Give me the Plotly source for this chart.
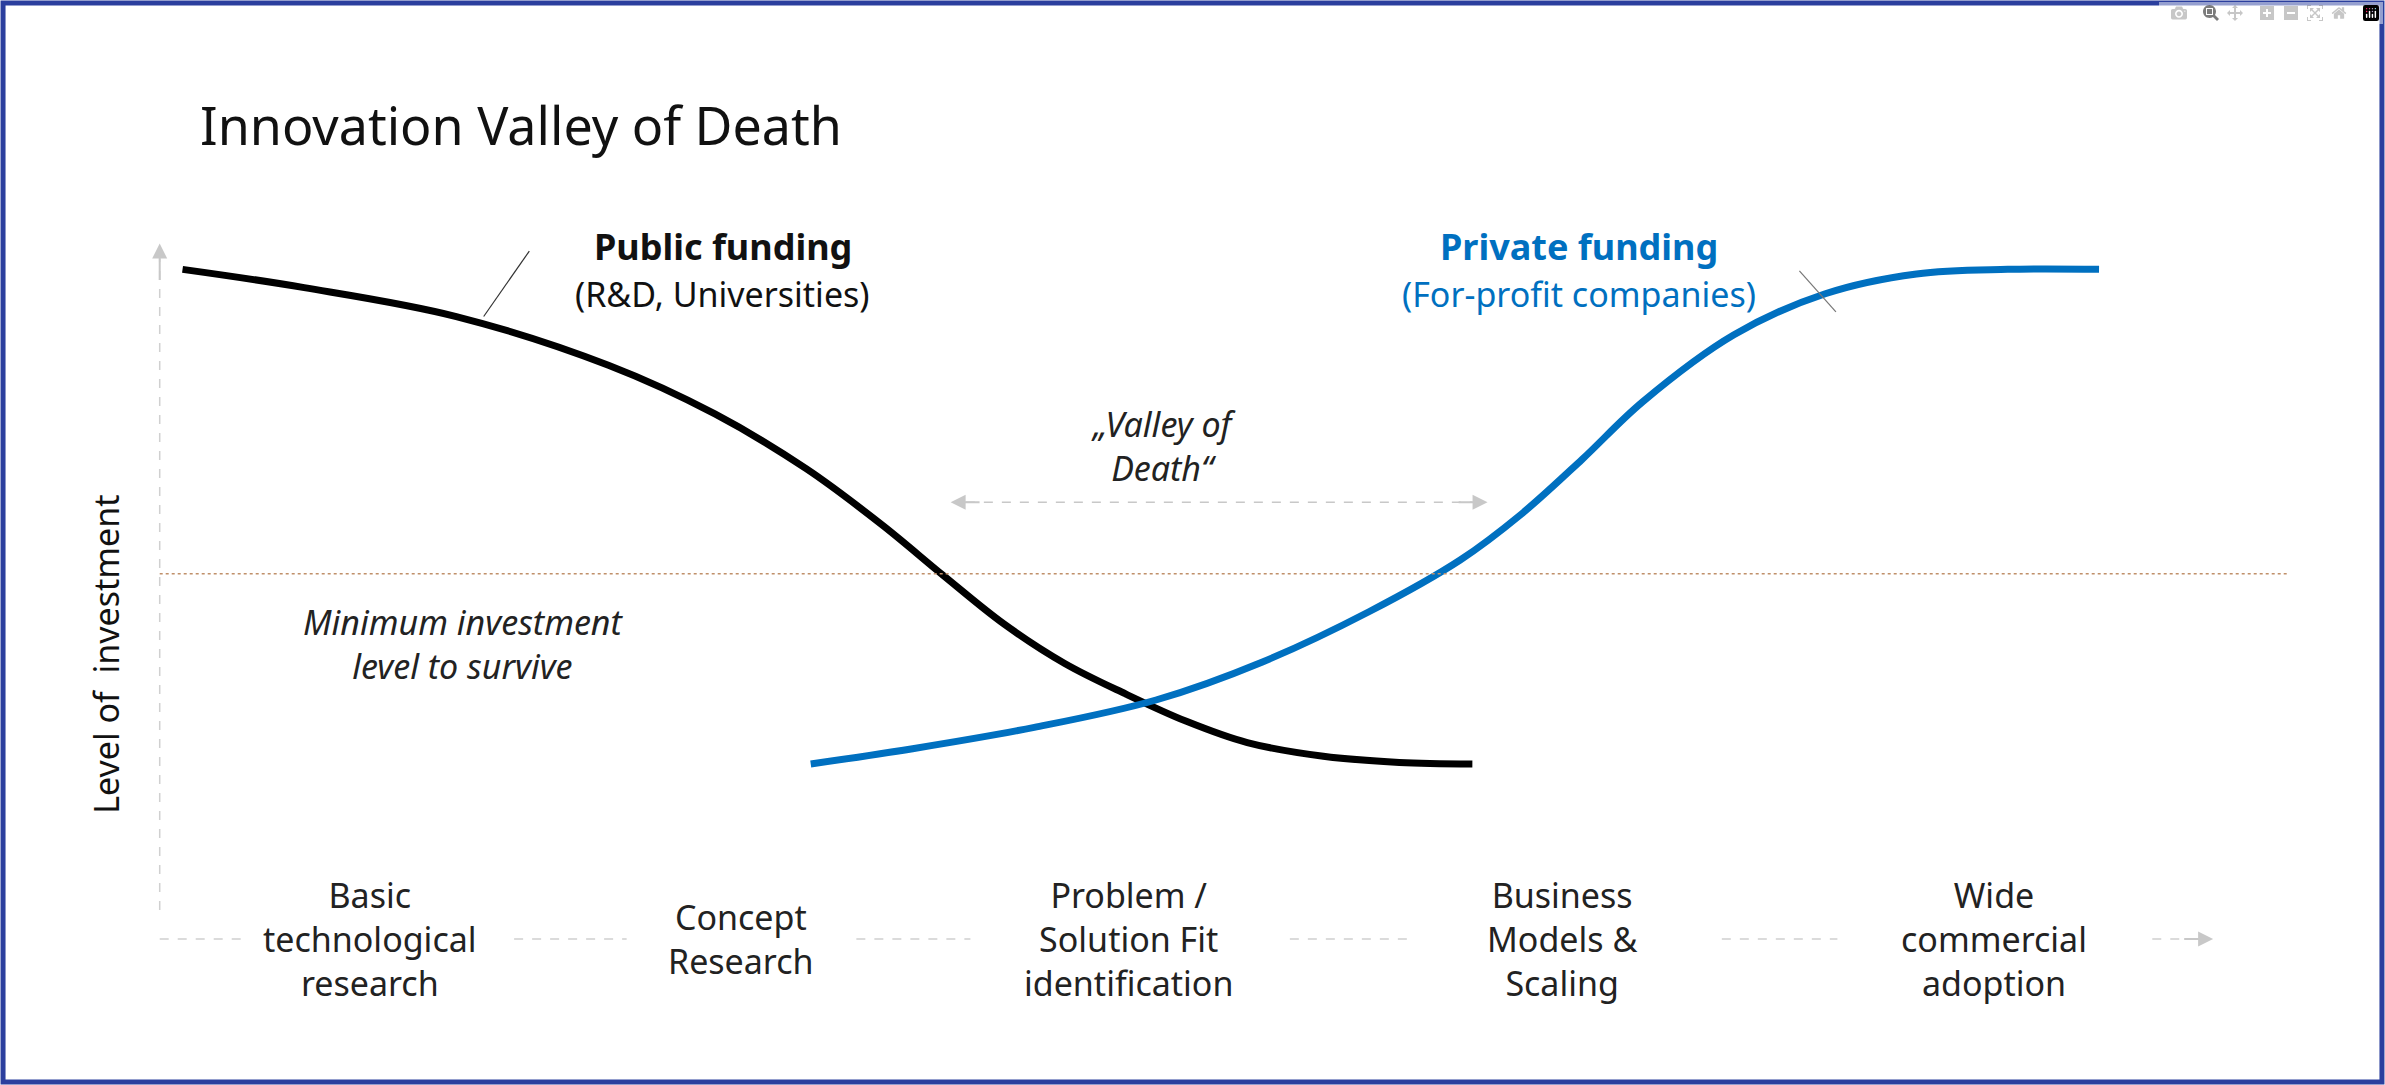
import plotly.graph_objects as go

# Coordinates in reference-image units (1568 x 713 canvas)
public_x = [120, 200, 300, 400, 470, 530, 580, 620, 660, 700, 740, 780, 820, 870, 920, 968]
public_y = [177, 189, 208, 240, 272, 308, 345, 378, 410, 436, 456, 474, 488, 497, 501, 502]
private_x = [533, 600, 680, 760, 830, 900, 960, 1000, 1040, 1080, 1140, 1200, 1260, 1320, 1380]
private_y = [502, 492, 478, 460, 435, 402, 368, 338, 302, 264, 220, 193, 180, 177, 177]
min_level = 377
stages = ["Basic<br>technological<br>research", "Concept<br>Research",
          "Problem /<br>Solution Fit<br>identification", "Business<br>Models &<br>Scaling",
          "Wide<br>commercial<br>adoption"]
stage_x = [243, 487, 742, 1027, 1311]
stage_gaps = [(105, 160), (338, 412), (563, 638), (848, 925), (1132, 1208), (1415, 1445)]

F = "Noto Sans"
fig = go.Figure()
fig.add_trace(go.Scatter(x=public_x, y=public_y, mode="lines", line=dict(color="black", width=7, shape="spline", smoothing=1.0), hoverinfo="skip"))
fig.add_trace(go.Scatter(x=private_x, y=private_y, mode="lines", line=dict(color="#0070C0", width=7, shape="spline", smoothing=1.0), hoverinfo="skip"))

shapes = [
    dict(type="line", x0=105, x1=1505, y0=min_level, y1=min_level, line=dict(color="#C0906A", width=1.5, dash="dot")),
    dict(type="line", x0=105, x1=105, y0=598, y1=170, line=dict(color="#D0D0D0", width=1.5, dash="dash")),
    dict(type="line", x0=318, y0=208, x1=348, y1=165, line=dict(color="#333", width=1.2)),
    dict(type="line", x0=1183, y0=178, x1=1207, y1=205, line=dict(color="#777", width=1.2)),
    dict(type="line", x0=635, x1=968, y0=330, y1=330, line=dict(color="#C8C8C8", width=1.5, dash="dash")),
    dict(type="rect", x0=2, x1=1566, y0=2, y1=711, line=dict(color="#2B3F9E", width=5)),
]
for a, b in stage_gaps:
    shapes.append(dict(type="line", x0=a, x1=b, y0=617, y1=617, line=dict(color="#D0D0D0", width=1.5, dash="dash")))

ann = [
    dict(x=130, y=82, text="Innovation Valley of Death", xanchor="left", font=dict(size=52, color="#111")),
    dict(x=475, y=162, text="<b>Public funding</b>", font=dict(size=36, color="#111")),
    dict(x=475, y=193, text="(R&D, Universities)", font=dict(size=34, color="#111")),
    dict(x=1038, y=162, text="<b>Private funding</b>", font=dict(size=36, color="#0070C0")),
    dict(x=1038, y=193, text="(For-profit companies)", font=dict(size=34, color="#0070C0")),
    dict(x=765, y=293, text="<i>„Valley of<br>Death“</i>", font=dict(size=34, color="#222")),
    dict(x=305, y=423, text="<i>Minimum investment<br>level to survive</i>", font=dict(size=34, color="#222")),
    dict(x=70, y=430, text="Level of  investment", textangle=-90, font=dict(size=34, color="#111")),
]
for s, x in zip(stages, stage_x):
    ann.append(dict(x=x, y=617, text=s, font=dict(size=34, color="#222")))
for a in ann:
    a.update(showarrow=False, xref="x", yref="y")
    a.setdefault("xanchor", "center")
    a["font"]["family"] = F
for (x, y, ax, ay) in [(105, 160, 105, 185), (625, 330, 645, 330), (978, 330, 958, 330), (1455, 617, 1435, 617)]:
    ann.append(dict(x=x, y=y, ax=ax, ay=ay, xref="x", yref="y", axref="x", ayref="y", text="",
                    showarrow=True, arrowhead=2, arrowsize=1.5, arrowwidth=2, arrowcolor="#C8C8C8"))

fig.update_layout(width=2385, height=1085, margin=dict(l=0, r=0, t=0, b=0),
                  paper_bgcolor="white", plot_bgcolor="white", showlegend=False,
                  shapes=shapes, annotations=ann,
                  xaxis=dict(range=[0, 1568], visible=False),
                  yaxis=dict(range=[713, 0], visible=False))
fig.write_html("out.html")
with open("out.html", encoding="utf-8") as f:
    html = f.read()
html = html.replace("<head>", "<head><style>html,body{margin:0;padding:0;overflow:hidden;}</style>", 1)
with open("out.html", "w", encoding="utf-8") as f:
    f.write(html)
